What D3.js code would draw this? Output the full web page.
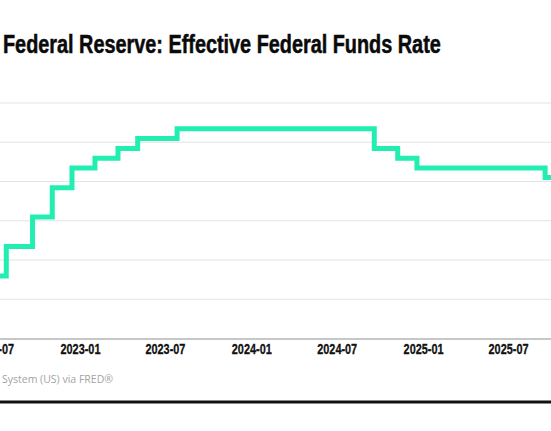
<!DOCTYPE html>
<html>
<head>
<meta charset="utf-8">
<script src="https://cdn.jsdelivr.net/npm/d3@7"></script>
<style>
  html, body { margin: 0; padding: 0; background: #fff; overflow: hidden; }
  svg { display: block; }
  .tick-label { font-family: "Liberation Sans Narrow", "Liberation Sans", sans-serif; font-weight: bold; font-size: 15px; fill: #111; stroke: #111; stroke-width: 0.3px; }
</style>
</head>
<body>
<svg id="chart" width="551" height="431"></svg>
<script>
// effective federal funds rate, dates where the rate changed (daily series, step)
var changeDates = ["2022-06-16", "2022-07-28", "2022-09-22", "2022-11-03", "2022-12-15",
                   "2023-02-02", "2023-03-23", "2023-05-04", "2023-07-27", "2024-09-19",
                   "2024-11-08", "2024-12-19", "2025-09-18", "2025-10-15"];
var rates = [1.58, 2.33, 3.08, 3.83, 4.33,
             4.58, 4.83, 5.08, 5.33, 4.83,
             4.58, 4.33, 4.09, 4.09];

var yTicks = [0, 1, 2, 3, 4, 5, 6];
var xTickLabels = ["2022-07", "2023-01", "2023-07", "2024-01", "2024-07", "2025-01", "2025-07"];

var parse = d3.timeParse("%Y-%m-%d");
var parseMonth = d3.timeParse("%Y-%m");

var data = changeDates.map(function(d, i) { return { date: parse(d), value: rates[i] }; });

var svg = d3.select("#chart");

// squeeze a text horizontally to a given width (stand-in for a condensed face)
function squeeze(sel, width, ox) {
    sel.each(function() {
        var w = this.getComputedTextLength();
        var k = w > 0 ? width / w : 1;
        d3.select(this).attr("transform", "translate(" + ox + ",0) scale(" + k + ",1) translate(" + (-ox) + ",0)");
    });
}

// plot area (the left part of the original chart is cut off)
var x = d3.scaleTime()
    .domain([parseMonth("2022-07"), parseMonth("2025-10")])
    .range([-6.4, 551.2]);

var y = d3.scaleLinear()
    .domain([0, 6])
    .range([338, 102.5]);

// title
svg.append("text")
    .attr("x", 3)
    .attr("y", 53)
    .attr("font-family", "'Liberation Sans Narrow', 'Liberation Sans', sans-serif")
    .attr("font-weight", "bold")
    .attr("font-size", 25)
    .attr("fill", "#0a0a0a")
    .attr("stroke", "#0a0a0a")
    .attr("stroke-width", 0.5)
    .text("Federal Reserve: Effective Federal Funds Rate")
    .call(squeeze, 438, 3);

// gridlines
svg.append("g")
    .selectAll("line")
    .data(yTicks.filter(function(d) { return d > 0; }))
    .enter().append("line")
    .attr("x1", 0)
    .attr("x2", 551)
    .attr("y1", function(d) { return y(d) + 0.5; })
    .attr("y2", function(d) { return y(d) + 0.5; })
    .attr("stroke", "#e3e3e3")
    .attr("stroke-width", 1);

// rate line
var line = d3.line()
    .x(function(d) { return x(d.date); })
    .y(function(d) { return y(d.value); })
    .curve(d3.curveStepAfter);

svg.append("path")
    .datum(data)
    .attr("fill", "none")
    .attr("stroke", "#22eeb2")
    .attr("stroke-width", 5)
    .attr("stroke-linejoin", "miter")
    .attr("d", line);

// x axis
var xAxis = d3.axisBottom(x)
    .tickValues(xTickLabels.map(parseMonth))
    .tickFormat(d3.timeFormat("%Y-%m"))
    .tickSize(0)
    .tickPadding(5);

var gx = svg.append("g")
    .attr("transform", "translate(0," + y(0) + ")")
    .call(xAxis);

gx.select(".domain").remove();
gx.selectAll("text")
    .attr("class", "tick-label")
    .attr("fill", null)
    .call(squeeze, 40, 0);

svg.append("line")
    .attr("x1", 0)
    .attr("x2", 551)
    .attr("y1", y(0) + 1)
    .attr("y2", y(0) + 1)
    .attr("stroke", "#b5b5b5")
    .attr("stroke-width", 1.5);

// source note (its start is cut off with the left side of the chart)
svg.append("text")
    .attr("x", 113)
    .attr("y", 383)
    .attr("text-anchor", "end")
    .attr("font-family", "'Open Sans', sans-serif")
    .attr("font-size", 10.5)
    .attr("fill", "#a3a3a3")
    .text("Source: Board of Governors of the Federal Reserve System (US) via FRED®");

// bottom rule
svg.append("line")
    .attr("x1", 0)
    .attr("x2", 551)
    .attr("y1", 402)
    .attr("y2", 402)
    .attr("stroke", "#111")
    .attr("stroke-width", 2.8);
</script>
</body>
</html>
